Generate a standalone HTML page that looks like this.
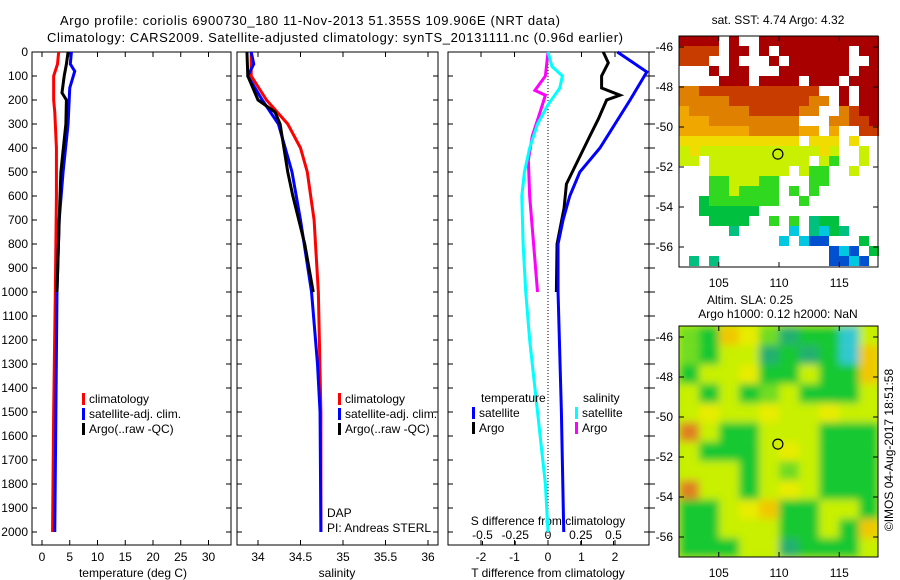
<!DOCTYPE html>
<html><head><meta charset="utf-8"><style>
html,body{margin:0;padding:0;background:#fff}
svg{display:block;font-family:"Liberation Sans",sans-serif;font-size:12px}
</style></head><body>
<svg id="c" width="900" height="580" viewBox="0 0 900 580" xmlns="http://www.w3.org/2000/svg">
<defs><filter id="bl" x="0" y="0" width="100%" height="100%"><feGaussianBlur stdDeviation="4"/></filter>
<clipPath id="cb"><rect x="679" y="326" width="199" height="231"/></clipPath></defs>
<text x="310" y="25" text-anchor="middle" font-size="13" textLength="500">Argo profile: coriolis 6900730_180 11-Nov-2013 51.355S 109.906E (NRT data)</text>
<text x="335" y="42" text-anchor="middle" font-size="13" textLength="576">Climatology: CARS2009. Satellite-adjusted climatology: synTS_20131111.nc (0.96d earlier)</text>
<g id="plots"></g>
</svg>
<script>
// ---------- data ----------
const depthTicks=[0,100,200,300,400,500,600,700,800,900,1000,1100,1200,1300,1400,1500,1600,1700,1800,1900,2000];
const tTicks=[0,5,10,15,20,25,30];
const sTicks=[34,34.5,35,35.5,36];
const sTickLabels=["34","34.5","35","35.5","36"];
const dTTicks=[-2,-1,0,1,2];
const dSTicks=[-0.5,-0.25,0,0.25,0.5];
const dSTickLabels=["-0.5","-0.25","0","0.25","0.5"];
// temperature panel
const tClimDepth=[0,50,100,200,250,300,400,600,800,1000,1500,2000];
const tClim=[3.0,2.8,2.1,2.1,2.3,2.4,2.6,2.6,2.5,2.4,2.1,1.9];
const tSatDepth=[0,50,80,150,300,500,700,1000,1500,2000];
const tSat=[5.3,5.1,5.9,5.0,4.7,3.8,3.1,2.7,2.5,2.3];
const tArgoDepth=[0,50,100,170,200,300,500,700,1000];
const tArgo=[4.7,4.4,4.0,3.6,4.4,4.3,3.4,3.1,2.7];
// salinity panel
const sClimDepth=[0,100,200,300,400,500,700,1000,1500,2000];
const sClim=[33.92,33.92,34.1,34.35,34.5,34.58,34.66,34.71,34.74,34.74];
const sSatDepth=[0,50,100,200,300,500,700,1000,1300,1500,2000];
const sSat=[33.92,33.95,33.88,34.05,34.24,34.4,34.5,34.63,34.7,34.73,34.74];
const sArgoDepth=[0,100,200,250,300,500,600,800,1000];
const sArgo=[33.87,33.88,34.0,34.2,34.26,34.35,34.41,34.55,34.65];
// difference panel
const dTSatDepth=[0,83,200,300,400,500,600,700,800,1000,1500,2000];
const dTSat=[2.07,2.95,2.45,2.0,1.55,0.95,0.65,0.45,0.3,0.3,0.4,0.47];
const dTArgoDepth=[0,45,100,150,180,200,280,350,450,550,650,800,1000];
const dTArgo=[1.65,1.8,1.6,1.6,2.15,1.75,1.5,1.25,0.9,0.55,0.48,0.27,0.25];
const dSArgoDepth=[0,100,160,180,250,350,450,600,800,1000];
const dSArgo=[0,-0.02,-0.1,-0.02,-0.06,-0.12,-0.15,-0.14,-0.11,-0.08];
const dSSatDepth=[0,60,100,150,220,300,400,500,600,800,1000,1200,1500,1800,2000];
const dSSat=[0,0.03,0.11,0.09,0,-0.08,-0.14,-0.18,-0.2,-0.19,-0.17,-0.14,-0.08,-0.02,0];
// maps
const mapLatTicks=[-46,-48,-50,-52,-54,-56];
const mapLonTicks=[105,110,115];
const argoLon=109.906, argoLat=-51.355;
const sstGrid=[
"RRRR.R..RRRRRRRRRRRR",
"rrrr.RR.R.RRRRRRR.RR",
"rrr..R...R.RRRRRR..R",
"...R.RR...RRRRRRR.RR",
"....RRR.RRRR.RRR.RRR",
"oorrrrrrrrrrrr..R.RR",
"ooooorrrrrrrroo.R.RR",
"aoooooorrrrroo..orRR",
"aaaooooooooo...oorrR",
"aaaaaaaoooooaa.a..rr",
"yyyyyyyyyyyy.yyy.y..",
"lyllllllllllllyl..l.",
"ll.llllllllll.lg..l.",
"...llllllll.lgg..l..",
"...gglllgg...gg.....",
"...gglgggg.g.g......",
"..Gggggggg..g.......",
"..GGGGGG............",
"...GGGG..g.g.tGG....",
".....t.....c.tcGt...",
"..........c.cbb...G.",
"...............bcb.G",
".t.t...........bbcb."];
const slaGrid=[
"gGoygtGGcl",
"gGlltGtGco",
"GllyGGlGGo",
"lGlGglGGGl",
"lyllyllyll",
"OlGGlllGGG",
"lGGGlylGGG",
"lllGlglGGG",
"OllGlylGGG",
"GGlyoGGllG",
"GGlllGGlGo",
"GGGlltGGGl"];
// ---------- helpers ----------
const NS="http://www.w3.org/2000/svg";
const root=document.getElementById('plots');
function el(tag,attrs,parent,text){const e=document.createElementNS(NS,tag);for(const k in attrs)e.setAttribute(k,attrs[k]);if(text!==undefined)e.textContent=text;(parent||root).appendChild(e);return e;}
const yD=d=>52+d*0.24;
const xT=t=>42+t*5.55;
const xS=s=>258+(s-34)*85;
const xDT=t=>548+t*33.5;
const xDS=s=>548+s*131;
const yTop=52,yBot=545;
function line(xs,ds,fx,color,name){
  const p=el('polyline',{points:xs.map((v,i)=>fx(v)+','+yD(ds[i])).join(' '),fill:'none',stroke:color,'stroke-width':3,'stroke-linejoin':'miter'});
  
  
}
function box(x0,x1,name){
  const r=el('rect',{x:x0,y:yTop,width:x1-x0,height:yBot-yTop,fill:'none',stroke:'#000','stroke-width':1});
  
  
  depthTicks.forEach(d=>{el('line',{x1:x0,x2:x0+5,y1:yD(d),y2:yD(d),stroke:'#000'});el('line',{x1:x1,x2:x1-5,y1:yD(d),y2:yD(d),stroke:'#000'});});
}
// panel 1
box(32,231,'temperature-panel');
depthTicks.forEach(d=>{const t=el('text',{x:28,y:yD(d)+4,'text-anchor':'end'},root,String(d));

});
tTicks.forEach(v=>{el('line',{x1:xT(v),x2:xT(v),y1:yBot,y2:yBot-5,stroke:'#000'});el('line',{x1:xT(v),x2:xT(v),y1:yTop,y2:yTop+5,stroke:'#000'});
const t=el('text',{x:xT(v),y:561,'text-anchor':'middle'},root,String(v));

});
el('text',{x:133,y:577,'text-anchor':'middle',},root,'temperature (deg C)');
line(tClim,tClimDepth,xT,'#f00','temp-climatology-line');
line(tSat,tSatDepth,xT,'#00f','temp-satellite-line');
line(tArgo,tArgoDepth,xT,'#000','temp-argo-line');
// panel 2
box(237,438,'salinity-panel');
sTicks.forEach((v,i)=>{el('line',{x1:xS(v),x2:xS(v),y1:yBot,y2:yBot-5,stroke:'#000'});el('line',{x1:xS(v),x2:xS(v),y1:yTop,y2:yTop+5,stroke:'#000'});
const t=el('text',{x:xS(v),y:561,'text-anchor':'middle'},root,sTickLabels[i]);

});
el('text',{x:337,y:577,'text-anchor':'middle',},root,'salinity');
line(sClim,sClimDepth,xS,'#f00','sal-climatology-line');
line(sSat,sSatDepth,xS,'#00f','sal-satellite-line');
line(sArgo,sArgoDepth,xS,'#000','sal-argo-line');
el('text',{x:327,y:517,},root,'DAP');
el('text',{x:327,y:532,},root,'PI: Andreas STERL');
// panel 3
box(448,649,'difference-panel');
depthTicks.forEach(d=>el('line',{x1:649,x2:655,y1:yD(d),y2:yD(d),stroke:'#000'}));
el('line',{x1:548,x2:548,y1:yTop,y2:yBot,stroke:'#000','stroke-dasharray':'1,2',});
dTTicks.forEach(v=>{el('line',{x1:xDT(v),x2:xDT(v),y1:yBot,y2:yBot-5,stroke:'#000'});el('line',{x1:xDT(v),x2:xDT(v),y1:yTop,y2:yTop+5,stroke:'#000'});
const t=el('text',{x:xDT(v),y:561,'text-anchor':'middle'},root,String(v));

});
dSTicks.forEach((v,i)=>{el('line',{x1:xDS(v),x2:xDS(v),y1:yBot,y2:yBot-4,stroke:'#000'});
const t=el('text',{x:xDS(v),y:539,'text-anchor':'middle'},root,dSTickLabels[i]);

});
el('text',{x:548,y:525,'text-anchor':'middle',},root,'S difference from climatology');
el('text',{x:548,y:577,'text-anchor':'middle',},root,'T difference from climatology');
line(dSArgo,dSArgoDepth,xDS,'#f0f','sdiff-argo-line');
line(dSSat,dSSatDepth,xDS,'#0ff','sdiff-satellite-line');
line(dTArgo,dTArgoDepth,xDT,'#000','tdiff-argo-line');
line(dTSat,dTSatDepth,xDT,'#00f','tdiff-satellite-line');
// legends
function legend(x,y,color,label,name){
  const g=el('g',{});
  
  
  el('rect',{x:x,y:y-10,width:3,height:12,fill:color},g);
  el('text',{x:x+7,y:y},g,label);
}
legend(82,403,'#f00','climatology','legend-climatology');
legend(82,418,'#00f','satellite-adj. clim.','legend-satellite');
legend(82,433,'#000','Argo(..raw -QC)','legend-argo');
legend(338,403,'#f00','climatology','legend-climatology-2');
legend(338,418,'#00f','satellite-adj. clim.','legend-satellite-2');
legend(338,433,'#000','Argo(..raw -QC)','legend-argo-2');
el('text',{x:481,y:402,},root,'temperature');
el('text',{x:583,y:402,},root,'salinity');
legend(472,417,'#00f','satellite','legend-t-satellite');
legend(472,432,'#000','Argo','legend-t-argo');
legend(575,417,'#0ff','satellite','legend-s-satellite');
legend(575,432,'#f0f','Argo','legend-s-argo');
// maps
const sstCol={R:'#a80000',r:'#c83c00',o:'#e08000',a:'#f0a800',y:'#f0dc00',l:'#c8f000',g:'#30d820',G:'#00c040',t:'#00c080',c:'#00c8e0',b:'#0050d0'};
const slaCol={G:'#18c830',g:'#70dc20',l:'#c8f000',y:'#e8ec00',o:'#f0c800',O:'#e08020',t:'#20b070',c:'#30c8d0'};
function mapAxes(y0,name){
  const yl=lat=>y0+11+(-46-lat)*20;
  const xl=lon=>679+(lon-101.7)*12.05;
  const r=el('rect',{x:679,y:y0,width:199,height:231,fill:'none',stroke:'#000'});
  
  
  mapLatTicks.forEach(l=>{el('line',{x1:679,x2:684,y1:yl(l),y2:yl(l),stroke:'#000'});el('line',{x1:878,x2:873,y1:yl(l),y2:yl(l),stroke:'#000'});
  const t=el('text',{x:673,y:yl(l)+4,'text-anchor':'end'},root,String(l));
  
  });
  mapLonTicks.forEach(l=>{el('line',{x1:xl(l),x2:xl(l),y1:y0,y2:y0+5,stroke:'#000'});el('line',{x1:xl(l),x2:xl(l),y1:y0+231,y2:y0+226,stroke:'#000'});
  const t=el('text',{x:xl(l),y:y0+251,'text-anchor':'middle'},root,String(l));
  
  });
  const c=el('circle',{cx:xl(argoLon),cy:yl(argoLat),r:5,fill:'none',stroke:'#000','stroke-width':1.2});
  
  
}
const sstG=el('g',{});


sstGrid.forEach((row,j)=>row.split('').forEach((ch,i)=>{if(sstCol[ch])el('rect',{x:679+i*10,y:36+j*10,width:10,height:Math.min(10,267-(36+j*10)),fill:sstCol[ch]},sstG);}));
mapAxes(36,'sst-map-frame');
const slaG=el('g',{'clip-path':'url(#cb)'});


el('rect',{x:679,y:326,width:199,height:231,fill:'#b8f000'},slaG);
const slaInner=el('g',{filter:'url(#bl)'},slaG);
el('rect',{x:660,y:306,width:240,height:270,fill:'#b8f000'},slaInner);
slaGrid.forEach((row,j)=>row.split('').forEach((ch,i)=>{el('rect',{x:679+i*20,y:326+j*19.3,width:20,height:19.3,fill:slaCol[ch]},slaInner);}));
mapAxes(326,'sla-map-frame');
el('text',{x:778,y:24,'text-anchor':'middle',},root,'sat. SST: 4.74 Argo: 4.32');
el('text',{x:750,y:304,'text-anchor':'middle',},root,'Altim. SLA: 0.25');
el('text',{x:778,y:318,'text-anchor':'middle',},root,'Argo h1000: 0.12 h2000: NaN');
el('text',{x:893,y:450,'text-anchor':'middle',transform:'rotate(-90 893 450)',},root,'©IMOS 04-Aug-2017 18:51:58');
</script>
</body></html>
